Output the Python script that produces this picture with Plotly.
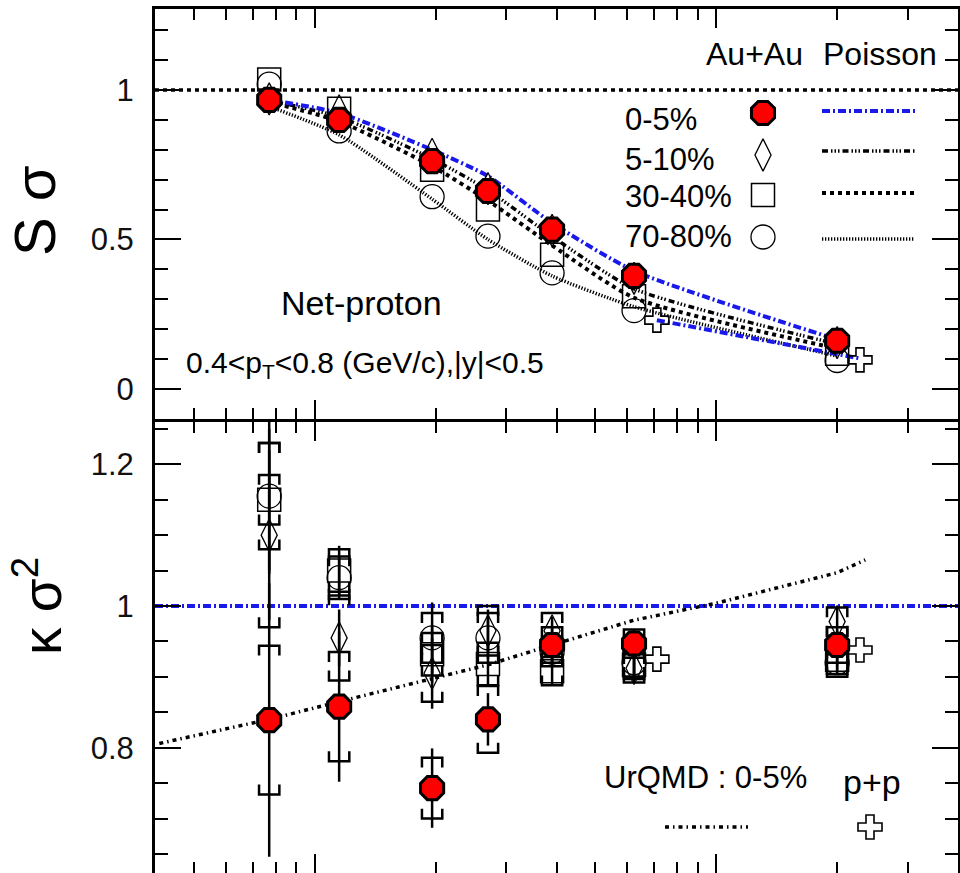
import plotly.graph_objects as go

# ---------------- data ----------------
energy = [7.7, 11.5, 19.6, 27, 39, 62.4, 200]          # sqrt(s_NN) in GeV
pp_energy = [62.4, 200]
pp_shift = 1.14                                          # p+p drawn a little to the right

centralities = ["0-5%", "5-10%", "30-40%", "70-80%"]

# S*sigma, Au+Au net-proton
ssig_0_5 = [0.967, 0.900, 0.762, 0.662, 0.533, 0.378, 0.161]
ssig_5_10 = [0.970, 0.930, 0.785, 0.670, 0.530, 0.370, 0.155]
ssig_30_40 = [1.035, 0.937, 0.733, 0.600, 0.449, 0.310, 0.118]
ssig_70_80 = [1.020, 0.863, 0.643, 0.511, 0.388, 0.262, 0.095]
ssig_pp = [0.230, 0.097]

# Poisson expectations for S*sigma
pois_ssig_0_5 = [0.967, 0.923, 0.800, 0.712, 0.555, 0.395, 0.165]
pois_ssig_5_10 = [0.965, 0.910, 0.770, 0.665, 0.510, 0.335, 0.150]
pois_ssig_30_40 = [0.960, 0.895, 0.745, 0.630, 0.480, 0.305, 0.135]
pois_ssig_70_80 = [0.945, 0.850, 0.635, 0.500, 0.378, 0.275, 0.110]
pois_ssig_pp = [0.230, 0.102]

# kappa*sigma^2 with statistical and systematic errors
ksig2_0_5 = [0.839, 0.858, 0.743, 0.840, 0.945, 0.947, 0.945]
ksig2_0_5_stat = [0.193, 0.106, 0.056, 0.037, 0.025, 0.020, 0.020]
ksig2_0_5_sys = [0.105, 0.077, 0.043, 0.047, 0.025, 0.020, 0.025]

ksig2_5_10 = [1.100, 0.955, 0.905, 0.965, 0.965, 0.912, 0.978]
ksig2_5_10_stat = [0.120, 0.040, 0.050, 0.030, 0.020, 0.020, 0.020]
ksig2_5_10_sys = [0.130, 0.060, 0.040, 0.035, 0.025, 0.020, 0.020]

ksig2_30_40 = [1.150, 1.050, 0.932, 0.918, 0.908, 0.917, 0.924]
ksig2_30_40_stat = [0.100, 0.035, 0.040, 0.030, 0.020, 0.020, 0.015]
ksig2_30_40_sys = [0.035, 0.030, 0.030, 0.030, 0.020, 0.020, 0.020]

ksig2_70_80 = [1.155, 1.040, 0.955, 0.955, 0.935, 0.920, 0.920]
ksig2_70_80_stat = [0.110, 0.030, 0.050, 0.030, 0.020, 0.020, 0.015]
ksig2_70_80_sys = [0.075, 0.030, 0.035, 0.035, 0.020, 0.020, 0.020]

ksig2_pp = [0.925, 0.938]

# UrQMD, 0-5%
urqmd_energy = [4.1, 7.7, 11.5, 19.6, 27, 39, 62.4, 100, 200, 235]
urqmd_ksig2 = [0.806, 0.840, 0.865, 0.898, 0.917, 0.945, 0.980, 1.004, 1.047, 1.065]

unity = 1.0               # S*sigma reference line
poisson_ksig2 = 1.0       # Poisson baseline for kappa*sigma^2

# ---------------- styles ----------------
FONT = "Liberation Sans, Arial, Helvetica, sans-serif"
BLUE = "rgb(25,25,235)"
marker_style = {
    "0-5%": dict(symbol="octagon", size=25, color="red", line=dict(color="black", width=3)),
    "5-10%": dict(symbol="diamond-tall-open", size=23, color="black", line=dict(color="black", width=1.3)),
    "30-40%": dict(symbol="square-open", size=23, color="black", line=dict(color="black", width=1.5)),
    "70-80%": dict(symbol="circle-open", size=24, color="black", line=dict(color="black", width=1.3)),
}
pp_marker = dict(symbol="cross-open", size=20, color="black", line=dict(color="black", width=1.6))
poisson_line = {
    "0-5%": dict(color=BLUE, width=4, dash="8px,3px,2px,3px"),
    "5-10%": dict(color="black", width=3.5, dash="6px,3px,1.5px,2px,1.5px,2px,1.5px,3px"),
    "30-40%": dict(color="black", width=4, dash="4px,4px"),
    "70-80%": dict(color="black", width=3.5, dash="1.3px,1.7px"),
}
urqmd_line = dict(color="black", width=3.5, dash="4px,4px,1.5px,4px")

ssig = {"0-5%": ssig_0_5, "5-10%": ssig_5_10, "30-40%": ssig_30_40, "70-80%": ssig_70_80}
pois = {"0-5%": pois_ssig_0_5, "5-10%": pois_ssig_5_10, "30-40%": pois_ssig_30_40, "70-80%": pois_ssig_70_80}
ksig = {"0-5%": (ksig2_0_5, ksig2_0_5_stat, ksig2_0_5_sys),
        "5-10%": (ksig2_5_10, ksig2_5_10_stat, ksig2_5_10_sys),
        "30-40%": (ksig2_30_40, ksig2_30_40_stat, ksig2_30_40_sys),
        "70-80%": (ksig2_70_80, ksig2_70_80_stat, ksig2_70_80_sys)}

pp_x = [e * pp_shift for e in pp_energy]

# ---------------- page geometry (pixels) ----------------
W, Hfig = 960, 873
ML, MR, MT, MB = 155, 2, 9, 0
PW, PH = W - ML - MR, Hfig - MT - MB


def px(x):
    return (x - ML) / PW


def py(y):
    return (Hfig - MB - y) / PH


def brackets(x, y, err, half=1.06, leg=0.014):
    """Systematic-error brackets around each point on a log x axis."""
    xs, ys = [], []
    for xi, yi, e in zip(x, y, err):
        top, bot = yi + e, yi - e
        xs += [xi / half, xi / half, xi * half, xi * half, None]
        ys += [top - leg, top, top, top - leg, None]
        xs += [xi / half, xi / half, xi * half, xi * half, None]
        ys += [bot + leg, bot, bot, bot + leg, None]
    return xs, ys


fig = go.Figure()

# ----- upper panel: S*sigma -----
for c in ["70-80%", "30-40%", "5-10%", "0-5%"]:
    fig.add_trace(go.Scatter(x=energy, y=pois[c], mode="lines", line=dict(**poisson_line[c], shape="spline", smoothing=0.6),
                             xaxis="x", yaxis="y", showlegend=False, hoverinfo="skip"))
fig.add_trace(go.Scatter(x=pp_x, y=pois_ssig_pp, mode="lines", line=poisson_line["0-5%"],
                         xaxis="x", yaxis="y", showlegend=False, hoverinfo="skip"))
for c in ["70-80%", "30-40%", "5-10%", "0-5%"]:
    fig.add_trace(go.Scatter(x=energy, y=ssig[c], mode="markers", marker=marker_style[c], name=c,
                             xaxis="x", yaxis="y", showlegend=False, cliponaxis=False))
fig.add_trace(go.Scatter(x=pp_x, y=ssig_pp, mode="markers", marker=pp_marker, name="p+p",
                         xaxis="x", yaxis="y", showlegend=False, cliponaxis=False))

# ----- lower panel: kappa*sigma^2 -----
fig.add_trace(go.Scatter(x=urqmd_energy, y=urqmd_ksig2, mode="lines", line=urqmd_line,
                         xaxis="x2", yaxis="y2", showlegend=False, hoverinfo="skip"))
for c in ["70-80%", "30-40%", "5-10%", "0-5%"]:
    vals, stat, sys_ = ksig[c]
    bx, by = brackets(energy, vals, sys_)
    fig.add_trace(go.Scatter(x=bx, y=by, mode="lines", line=dict(color="black", width=2.5),
                             xaxis="x2", yaxis="y2", showlegend=False, hoverinfo="skip"))
    fig.add_trace(go.Scatter(x=energy, y=vals, mode="markers", marker=marker_style[c], name=c,
                             error_y=dict(type="data", array=stat, thickness=2.5, width=0, color="black"),
                             xaxis="x2", yaxis="y2", showlegend=False))
fig.add_trace(go.Scatter(x=pp_x, y=ksig2_pp, mode="markers", marker=pp_marker, name="p+p",
                         xaxis="x2", yaxis="y2", showlegend=False))

# reference lines
fig.add_shape(type="line", xref="x domain", yref="y", x0=0, x1=1, y0=unity, y1=unity,
              line=dict(color="black", width=3.5, dash="4px,4px"), layer="below")
fig.add_shape(type="line", xref="x2 domain", yref="y2", x0=0, x1=1, y0=poisson_ksig2, y1=poisson_ksig2,
              line=dict(color=BLUE, width=4, dash="8px,3px,2px,3px"), layer="below")

# ----- legend keys (drawn on a pixel-unit overlay) -----
key_x = 763
key_y = [113, 155, 195, 237]
for c, yk in zip(centralities, key_y):
    fig.add_trace(go.Scatter(x=[key_x], y=[yk], mode="markers", marker=marker_style[c],
                             xaxis="x3", yaxis="y3", showlegend=False, cliponaxis=False, hoverinfo="skip"))
line_key_y = [111, 151, 193, 239]
for c, yk in zip(centralities, line_key_y):
    fig.add_trace(go.Scatter(x=[822, 915], y=[yk, yk], mode="lines", line=poisson_line[c],
                             xaxis="x3", yaxis="y3", showlegend=False, hoverinfo="skip"))
fig.add_trace(go.Scatter(x=[665, 748], y=[827, 827], mode="lines", line=urqmd_line,
                         xaxis="x3", yaxis="y3", showlegend=False, hoverinfo="skip"))
fig.add_trace(go.Scatter(x=[870], y=[827], mode="markers", marker=pp_marker,
                         xaxis="x3", yaxis="y3", showlegend=False, cliponaxis=False, hoverinfo="skip"))

# ----- text -----
ann = []


def text(s, x, y, size, xanchor="center", angle=0):
    ann.append(dict(text=s, x=px(x), y=py(y), xref="paper", yref="paper", showarrow=False,
                    xanchor=xanchor, yanchor="middle", textangle=angle,
                    font=dict(family=FONT, size=size, color="black")))


text("Au+Au", 754, 54, 32)
text("Poisson", 880, 54, 32)
for c, yk in zip(centralities, [120, 159, 197, 236]):
    text(c, 623, yk, 31, xanchor="left")
text("Net-proton", 361, 303, 34)
text("0.4&lt;p<sub>T</sub>&lt;0.8 (GeV/c),|y|&lt;0.5", 184, 364, 30, xanchor="left")
text("UrQMD : 0-5%", 602, 777, 31, xanchor="left")
text("p+p", 872, 782, 34)
text("S σ", 34, 211, 58, angle=-90)
text("κ σ<sup>2</sup>", 38, 606, 55, angle=-90)

# ----- axes -----
xrange_log = [0.60206, 2.60206]
minor_x = [5, 6, 7, 8, 9, 20, 30, 40, 50, 60, 70, 80, 90, 200, 300]
xcommon = dict(type="log", range=xrange_log, showgrid=False, zeroline=False,
               showline=True, linewidth=3, linecolor="black", mirror="allticks",
               ticks="inside", ticklen=19, tickwidth=2, tickcolor="black",
               tickmode="array", tickvals=[10, 100], showticklabels=False,
               minor=dict(tickmode="array", tickvals=minor_x, ticks="inside", ticklen=11,
                          tickwidth=2, tickcolor="black", showgrid=False))
ycommon = dict(showgrid=False, zeroline=False, showline=True, linewidth=3, linecolor="black",
               mirror="allticks", ticks="inside", ticklen=26, tickwidth=2, tickcolor="black",
               tickfont=dict(family=FONT, size=31, color="#111"), ticklabelstandoff=12)

up_bottom = py(418.5)
lo_top = py(421.5)

fig.update_layout(
    width=W, height=Hfig,
    margin=dict(l=ML, r=MR, t=MT, b=MB),
    paper_bgcolor="white", plot_bgcolor="rgba(0,0,0,0)",
    showlegend=False,
    xaxis=dict(**xcommon, domain=[0, 1], anchor="y"),
    yaxis=dict(**ycommon, domain=[up_bottom, 1], anchor="x", range=[-0.099, 1.271],
               tickmode="array", tickvals=[0, 0.5, 1], ticktext=["0", "0.5", "1"],
               minor=dict(tickmode="linear", tick0=0, dtick=0.1, ticks="inside", ticklen=13,
                          tickwidth=2, tickcolor="black", showgrid=False)),
    xaxis2=dict(**xcommon, domain=[0, 1], anchor="y2", matches="x"),
    yaxis2=dict(**ycommon, domain=[0, lo_top], anchor="x2", range=[0.6232, 1.2604],
                tickmode="array", tickvals=[0.8, 1, 1.2], ticktext=["0.8", "1", "1.2"],
                minor=dict(tickmode="linear", tick0=0, dtick=0.05, ticks="inside", ticklen=13,
                           tickwidth=2, tickcolor="black", showgrid=False)),
    xaxis3=dict(domain=[0, 1], anchor="y3", range=[ML, W - MR], visible=False, fixedrange=True),
    yaxis3=dict(domain=[0, 1], anchor="x3", range=[Hfig - MB, MT], visible=False, fixedrange=True),
    annotations=ann,
)

fig.write_html("out.html")
